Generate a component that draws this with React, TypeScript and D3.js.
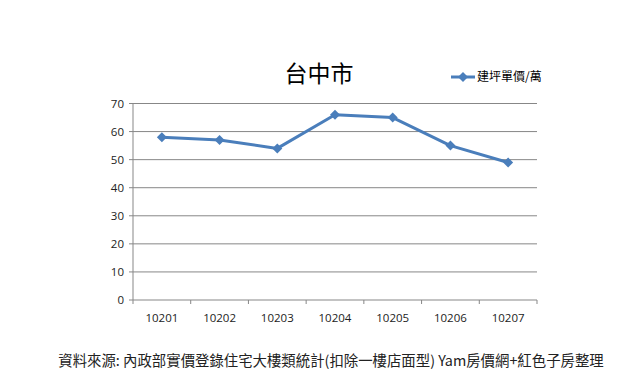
import React from "react";
import * as d3 from "d3";

const categories = ["10201", "10202", "10203", "10204", "10205", "10206", "10207"];
const values = [58, 57, 54, 66, 65, 55, 49];
const yTicks = [0, 10, 20, 30, 40, 50, 60, 70];
const title = "台中市";
const seriesName = "建坪單價/萬";
const footer = "資料來源: 內政部實價登錄住宅大樓類統計(扣除一樓店面型)  Yam房價網+紅色子房整理";

export default function App() {
  const W = 640, H = 383;
  const left = 133, right = 537, top = 103.5, bottom = 300;
  const x = d3.scaleBand<string>().domain(categories).range([left, right]);
  const y = d3.scaleLinear().domain([0, 70]).range([bottom, top]);
  const line = d3.line<number>()
    .x((_, i) => (x(categories[i]) as number) + x.bandwidth() / 2)
    .y((d) => y(d));
  const color = "#4a7ebb";
  const font = "'Open Sans', 'Noto Sans CJK TC', sans-serif";
  const diamond = "M0,-5L5,0L0,5L-5,0Z";
  return (
    <svg width={W} height={H} style={{ position: "absolute", left: 0, top: 0, background: "#fff" }}
      fontFamily={font}>
      {yTicks.map((t) => (
        <g key={t}>
          <line x1={left - 4} x2={right} y1={y(t)} y2={y(t)} stroke="#878787" strokeWidth={1} />
          <text x={left - 9} y={y(t)} dy="0.35em" textAnchor="end" fontSize={11.5} fill="#222">{t}</text>
        </g>
      ))}
      <line x1={left} x2={left} y1={top} y2={bottom} stroke="#878787" />
      {categories.map((c) => (
        <g key={c}>
          <line x1={x(c) as number} x2={x(c) as number} y1={bottom} y2={bottom + 4} stroke="#878787" />
          <text x={(x(c) as number) + x.bandwidth() / 2} y={322} textAnchor="middle" fontSize={11.5} fill="#222">{c}</text>
        </g>
      ))}
      <line x1={right} x2={right} y1={bottom} y2={bottom + 4} stroke="#878787" />
      <path d={line(values) as string} fill="none" stroke={color} strokeWidth={3} strokeLinejoin="round" />
      {values.map((v, i) => (
        <path key={i} d={diamond}
          transform={`translate(${(x(categories[i]) as number) + x.bandwidth() / 2},${y(v)})`}
          fill={color} />
      ))}
      <text x={319} y={82} textAnchor="middle" fontSize={23} fill="#000"
        fontFamily="'Noto Sans CJK TC', sans-serif">{title}</text>
      <line x1={451} x2={475} y1={77} y2={77} stroke={color} strokeWidth={3} />
      <path d={diamond} transform="translate(463,77)" fill={color} />
      <text x={477} y={77} dy="0.35em" fontSize={12} fill="#000"
        fontFamily="'Noto Sans CJK TC', sans-serif">{seriesName}</text>
      <text x={331} y={366} textAnchor="middle" fontSize={14.4} fill="#222"
        fontFamily="'Noto Sans CJK TC', sans-serif">{footer}</text>
    </svg>
  );
}
